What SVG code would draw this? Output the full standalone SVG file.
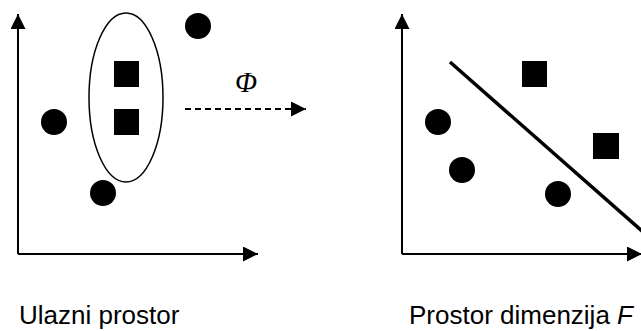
<svg xmlns="http://www.w3.org/2000/svg" width="641" height="331" viewBox="0 0 641 331">
<style>
.ax{stroke:#000;stroke-width:2;fill:none}
.pt{fill:#000}
.lbl{font-family:"Liberation Sans",Arial,sans-serif;font-size:26px;fill:#000}
</style>
<defs>
<marker id="ah" markerWidth="15" markerHeight="15" refX="15" refY="7.5" orient="auto" markerUnits="userSpaceOnUse">
<path d="M0,0 L15,7.5 L0,15 Z" fill="#000"/>
</marker>
</defs>
<rect width="641" height="331" fill="#fff"/>
<g id="connectors">
<path class="ax" d="M18,254 L18,14" marker-end="url(#ah)"/>
<path class="ax" d="M18,254 L258,254" marker-end="url(#ah)"/>
<path class="ax" d="M402,254 L402,14" marker-end="url(#ah)"/>
<path class="ax" d="M402,254 L642,254" marker-end="url(#ah)"/>
<path class="ax" d="M185,109 L306,109" stroke-dasharray="6,4" marker-end="url(#ah)"/>
<line x1="450" y1="62" x2="650" y2="238" stroke="#000" stroke-width="3.5"/>
</g>
<g id="input-space">
<ellipse cx="126" cy="97.5" rx="37" ry="84.5" fill="none" stroke="#000" stroke-width="1.5"/>
<circle class="pt" cx="198" cy="26" r="13"/>
<circle class="pt" cx="54" cy="122" r="13"/>
<circle class="pt" cx="103" cy="193" r="13"/>
<rect class="pt" x="114" y="61" width="25" height="26"/>
<rect class="pt" x="114" y="109" width="25" height="26"/>
</g>
<g id="feature-space">
<circle class="pt" cx="438" cy="122" r="13"/>
<circle class="pt" cx="462" cy="170" r="13"/>
<circle class="pt" cx="558" cy="194" r="13"/>
<rect class="pt" x="522" y="61" width="25" height="26"/>
<rect class="pt" x="593" y="133" width="26" height="26"/>
</g>
<g id="labels">
<text x="235" y="92" font-family="'Liberation Serif','Times New Roman',serif" font-style="italic" font-size="29">Φ</text>
<text class="lbl" x="19" y="324">Ulazni prostor</text>
<text class="lbl" x="409" y="324">Prostor dimenzija <tspan font-style="italic">F</tspan></text>
</g>
</svg>
